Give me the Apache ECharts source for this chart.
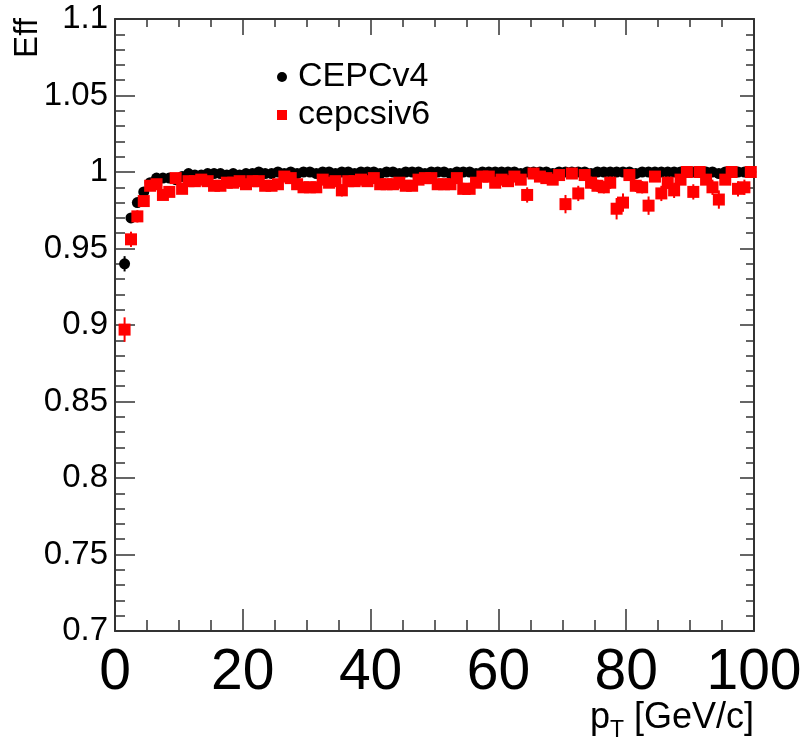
<!DOCTYPE html>
<html>
<head>
<meta charset="utf-8">
<script src="https://cdn.jsdelivr.net/npm/echarts@6/dist/echarts.min.js"></script>
<style>
  html, body { margin: 0; padding: 0; background: #fff; }
  #chart { width: 800px; height: 742px; }
</style>
</head>
<body>
<div id="chart"></div>
<script>
// bin centres, pT [GeV/c]
const ptCenters = [
  1.5, 2.5, 3.5, 4.5, 5.5, 6.5, 7.5, 8.5, 9.5, 10.5,
  11.5, 12.5, 13.5, 14.5, 15.5, 16.5, 17.5, 18.5, 19.5, 20.5,
  21.5, 22.5, 23.5, 24.5, 25.5, 26.5, 27.5, 28.5, 29.5, 30.5,
  31.5, 32.5, 33.5, 34.5, 35.5, 36.5, 37.5, 38.5, 39.5, 40.5,
  41.5, 42.5, 43.5, 44.5, 45.5, 46.5, 47.5, 48.5, 49.5, 50.5,
  51.5, 52.5, 53.5, 54.5, 55.5, 56.5, 57.5, 58.5, 59.5, 60.5,
  61.5, 62.5, 63.5, 64.5, 65.5, 66.5, 67.5, 68.5, 69.5, 70.5,
  71.5, 72.5, 73.5, 74.5, 75.5, 76.5, 77.5, 78.5, 79.5, 80.5,
  81.5, 82.5, 83.5, 84.5, 85.5, 86.5, 87.5, 88.5, 89.5, 90.5,
  91.5, 92.5, 93.5, 94.5, 95.5, 96.5, 97.5, 98.5, 99.5
];

// CEPCv4 efficiency (black)
const effCEPCv4 = [
  0.940, 0.970, 0.980, 0.987, 0.993, 0.996, 0.996, 0.996, 0.995, 0.997,
  0.999, 0.998, 0.998, 0.999, 0.999, 0.999, 0.998, 0.999, 0.998, 0.999,
  0.999, 1.000, 0.999, 0.999, 1.000, 0.999, 1.000, 0.999, 1.000, 1.000,
  0.999, 1.000, 1.000, 0.999, 1.000, 1.000, 0.999, 1.000, 1.000, 1.000,
  0.999, 1.000, 1.000, 0.999, 1.000, 1.000, 1.000, 0.999, 1.000, 1.000,
  1.000, 0.999, 1.000, 1.000, 1.000, 0.999, 1.000, 1.000, 1.000, 1.000,
  1.000, 1.000, 0.999, 1.000, 1.000, 1.000, 1.000, 0.999, 1.000, 1.000,
  1.000, 1.000, 1.000, 0.999, 1.000, 1.000, 1.000, 1.000, 1.000, 1.000,
  0.999, 1.000, 1.000, 1.000, 1.000, 1.000, 1.000, 1.000, 1.000, 1.000,
  1.000, 1.000, 1.000, 0.999, 1.000, 1.000, 1.000, 1.000, 1.000
];
const errCEPCv4 = [
  0.005, 0.003, 0.003, 0.002, 0.002, 0.002, 0.002, 0.002, 0.002, 0.001,
  0.001, 0.001, 0.001, 0.001, 0.001, 0.001, 0.001, 0.001, 0.001, 0.001,
  0.001, 0.001, 0.001, 0.001, 0.001, 0.001, 0.001, 0.001, 0.001, 0.001,
  0.001, 0.001, 0.001, 0.001, 0.001, 0.001, 0.001, 0.001, 0.001, 0.001,
  0.001, 0.001, 0.001, 0.001, 0.001, 0.001, 0.001, 0.001, 0.001, 0.001,
  0.001, 0.001, 0.001, 0.001, 0.001, 0.001, 0.001, 0.001, 0.001, 0.001,
  0.001, 0.001, 0.001, 0.001, 0.001, 0.001, 0.001, 0.001, 0.001, 0.001,
  0.001, 0.001, 0.001, 0.001, 0.001, 0.001, 0.001, 0.001, 0.001, 0.001,
  0.001, 0.001, 0.001, 0.001, 0.001, 0.001, 0.001, 0.001, 0.001, 0.001,
  0.001, 0.001, 0.001, 0.001, 0.001, 0.001, 0.001, 0.001, 0.001
];

// cepcsiv6 efficiency (red)
const effCepcsiv6 = [
  0.897, 0.956, 0.971, 0.981, 0.991, 0.992, 0.985, 0.987, 0.996, 0.989,
  0.994, 0.994, 0.995, 0.994, 0.991, 0.991, 0.993, 0.993, 0.994, 0.992,
  0.994, 0.994, 0.991, 0.991, 0.992, 0.997, 0.996, 0.992, 0.990, 0.990,
  0.990, 0.995, 0.993, 0.994, 0.988, 0.994, 0.994, 0.995, 0.994, 0.996,
  0.992, 0.992, 0.992, 0.993, 0.991, 0.991, 0.995, 0.996, 0.996, 0.992,
  0.992, 0.992, 0.996, 0.989, 0.989, 0.993, 0.997, 0.997, 0.993, 0.995,
  0.994, 0.997, 0.995, 0.985, 0.999, 0.997, 0.996, 0.995, 0.998, 0.979,
  0.999, 0.986, 0.998, 0.993, 0.991, 0.990, 0.993, 0.976, 0.980, 0.998,
  0.991, 0.990, 0.978, 0.997, 0.986, 0.993, 0.988, 0.995, 1.000, 0.987,
  1.000, 0.995, 0.990, 0.982, 0.995, 1.000, 0.989, 0.990, 1.000
];
const errCepcsiv6 = [
  0.008, 0.005, 0.004, 0.003, 0.003, 0.003, 0.003, 0.003, 0.002, 0.003,
  0.002, 0.002, 0.002, 0.002, 0.003, 0.003, 0.002, 0.002, 0.002, 0.003,
  0.002, 0.002, 0.003, 0.003, 0.003, 0.002, 0.002, 0.003, 0.003, 0.003,
  0.003, 0.002, 0.003, 0.003, 0.004, 0.003, 0.003, 0.002, 0.003, 0.002,
  0.003, 0.003, 0.003, 0.003, 0.003, 0.003, 0.003, 0.002, 0.002, 0.003,
  0.003, 0.003, 0.002, 0.004, 0.004, 0.003, 0.002, 0.002, 0.003, 0.003,
  0.003, 0.002, 0.003, 0.005, 0.001, 0.003, 0.003, 0.003, 0.002, 0.006,
  0.001, 0.005, 0.002, 0.004, 0.004, 0.004, 0.004, 0.007, 0.006, 0.002,
  0.004, 0.004, 0.006, 0.003, 0.005, 0.004, 0.005, 0.003, 0.001, 0.005,
  0.001, 0.003, 0.005, 0.006, 0.003, 0.001, 0.005, 0.005, 0.001
];

const xTicks = { min: 0, max: 100, interval: 20 };
const yTicks = { min: 0.7, max: 1.1, interval: 0.05 };

const frameColor = '#333';
const pointData = (eff) => ptCenters.map((x, i) => [x, eff[i]]);
const errData = (eff, err) => ptCenters.map((x, i) => [x, eff[i] - err[i], eff[i] + err[i]]);

function errorBars(color) {
  return function (params, api) {
    const x = api.value(0);
    const lo = api.coord([x, api.value(1)]);
    const hi = api.coord([x, api.value(2)]);
    return {
      type: 'line',
      shape: { x1: lo[0], y1: lo[1], x2: hi[0], y2: hi[1] },
      style: { stroke: color, lineWidth: 2 }
    };
  };
}

const chart = echarts.init(document.getElementById('chart'), null, { renderer: 'canvas' });

const axisBase = {
  type: 'value',
  axisLine: { show: true, onZero: false, lineStyle: { color: frameColor, width: 2 } },
  splitLine: { show: false },
  minorSplitLine: { show: false }
};

chart.setOption({
  animation: false,
  backgroundColor: '#fff',
  grid: { left: 115, right: 46, top: 19, bottom: 111, containLabel: false, outerBoundsMode: 'none' },
  legend: {
    orient: 'vertical',
    left: 272,
    top: 55,
    itemWidth: 10,
    itemHeight: 10,
    itemGap: 4,
    data: ['CEPCv4', 'cepcsiv6'],
    textStyle: { fontFamily: 'Liberation Sans, Arial, sans-serif', fontSize: 34, color: '#000', padding: [0, 0, 0, 6] }
  },
  xAxis: [
    Object.assign({}, axisBase, {
      position: 'bottom',
      min: xTicks.min, max: xTicks.max, interval: xTicks.interval,
      axisTick: { show: true, inside: true, length: 22, lineStyle: { color: frameColor, width: 1.5 } },
      minorTick: { show: true, splitNumber: 4, length: 11, lineStyle: { color: frameColor, width: 1.5 } },
      axisLabel: {
        margin: 14,
        fontFamily: 'Liberation Sans, Arial, sans-serif',
        fontSize: 57, color: '#000'
      },
      name: '{p|p}{s|T}{p| [GeV/c]}',
      nameLocation: 'end',
      nameGap: 0,
      nameMoveOverlap: false,
      nameTextStyle: {
        align: 'right',
        verticalAlign: 'top',
        padding: [64, 0, 0, 0],
        rich: {
          p: { fontFamily: 'Liberation Sans, Arial, sans-serif', fontSize: 36, color: '#000' },
          s: { fontFamily: 'Liberation Sans, Arial, sans-serif', fontSize: 23, color: '#000', padding: [24, 0, 0, 0] }
        }
      }
    }),
    Object.assign({}, axisBase, {
      position: 'top',
      min: xTicks.min, max: xTicks.max, interval: xTicks.interval,
      axisTick: { show: true, inside: true, length: 16, lineStyle: { color: frameColor, width: 1.5 } },
      minorTick: { show: true, splitNumber: 4, length: 8, lineStyle: { color: frameColor, width: 1.5 } },
      axisLabel: { show: false }
    })
  ],
  yAxis: [
    Object.assign({}, axisBase, {
      position: 'left',
      min: yTicks.min, max: yTicks.max, interval: yTicks.interval,
      axisTick: { show: true, inside: true, length: 20, lineStyle: { color: frameColor, width: 1.5 } },
      minorTick: { show: true, splitNumber: 5, length: 10, lineStyle: { color: frameColor, width: 1.5 } },
      axisLabel: {
        margin: 7,
        fontFamily: 'Liberation Sans, Arial, sans-serif',
        fontSize: 33, color: '#000'
      }
    }),
    Object.assign({}, axisBase, {
      position: 'right',
      min: yTicks.min, max: yTicks.max, interval: yTicks.interval,
      axisTick: { show: true, inside: true, length: 14, lineStyle: { color: frameColor, width: 1.5 } },
      minorTick: { show: true, splitNumber: 5, length: 8, lineStyle: { color: frameColor, width: 1.5 } },
      axisLabel: { show: false }
    })
  ],
  graphic: [{
    type: 'text',
    x: 28,
    y: 38,
    rotation: Math.PI / 2,
    style: {
      text: 'Eff',
      fontFamily: 'Liberation Sans, Arial, sans-serif',
      fontSize: 33,
      fill: '#000',
      align: 'center',
      verticalAlign: 'middle'
    }
  }],
  series: [
    {
      name: 'CEPCv4 err',
      type: 'custom',
      renderItem: errorBars('#000'),
      encode: { x: 0, y: [1, 2] },
      data: errData(effCEPCv4, errCEPCv4),
      z: 2
    },
    {
      name: 'CEPCv4',
      type: 'scatter',
      symbol: 'circle',
      symbolSize: 11,
      itemStyle: { color: '#000', opacity: 1 },
      data: pointData(effCEPCv4),
      z: 3
    },
    {
      name: 'cepcsiv6 err',
      type: 'custom',
      renderItem: errorBars('#ff0000'),
      encode: { x: 0, y: [1, 2] },
      data: errData(effCepcsiv6, errCepcsiv6),
      z: 4
    },
    {
      name: 'cepcsiv6',
      type: 'scatter',
      symbol: 'rect',
      symbolSize: 12,
      itemStyle: { color: '#ff0000', opacity: 1 },
      data: pointData(effCepcsiv6),
      z: 5
    }
  ]
});
</script>
</body>
</html>
